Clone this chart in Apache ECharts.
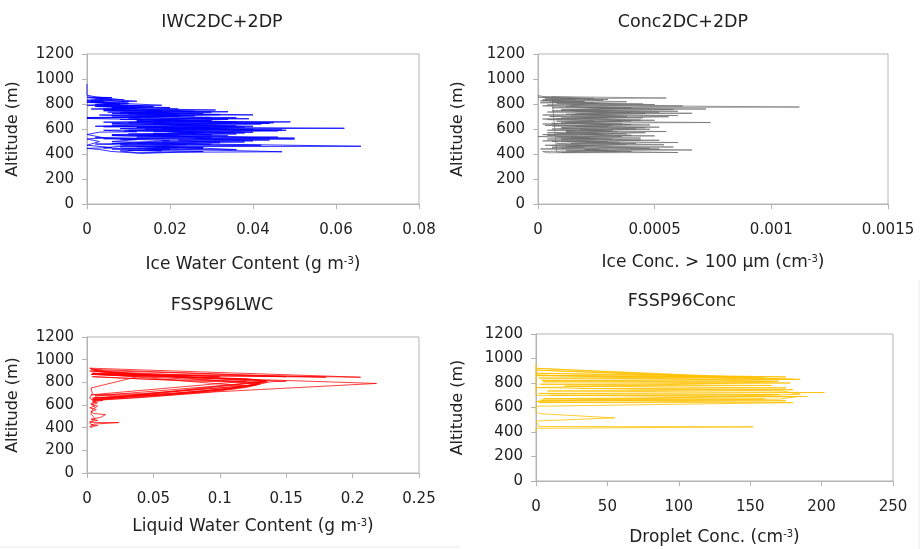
<!DOCTYPE html>
<html>
<head>
<meta charset="utf-8">
<script src="https://cdn.jsdelivr.net/npm/echarts@6/dist/echarts.min.js"></script>
<style>
  html, body { margin: 0; padding: 0; background: #fff; }
  #chart { width: 921px; height: 549px; }
</style>
</head>
<body>
<div id="chart"></div>
<script>
// panel titles
const panelTitles = ['IWC2DC+2DP', 'Conc2DC+2DP', 'FSSP96LWC', 'FSSP96Conc'];

// [value, altitude (m)]
const iwcProfile = [
  [0, 960], [0, 870], [0.002, 858], [0.009, 832], [0.001, 826], [0.004, 818], [0.000, 812], [0.007, 805],
  [0.002, 797], [0.013, 788], [0.003, 782], [0.020, 772], [0.006, 766], [0.031, 752], [0.004, 746],
  [0.034, 738], [0.010, 730], [0.040, 713], [0.006, 706], [0.022, 700], [0.000, 692], [0.039, 682],
  [0.008, 676], [0.030, 668], [0.012, 660], [0.049, 657], [0.010, 650], [0.042, 640], [0.006, 632],
  [0.036, 625], [0.004, 618], [0.062, 606], [0.014, 600], [0.047, 592], [0.009, 585], [0.040, 574],
  [0.016, 566], [0.030, 556], [0.006, 548], [0.050, 527], [0.004, 522], [0.044, 512], [0.018, 504],
  [0.038, 496], [0.012, 488], [0.066, 462], [0.008, 458], [0.028, 452], [0.014, 444], [0.047, 418],
  [0.022, 414], [0.013, 405], [0.010, 412],
  [0.006, 420], [0.003, 436], [0.000, 445], [0.006, 452], [0.000, 470], [0.003, 500], [0.000, 520],
  [0.004, 530], [0.000, 556], [0.003, 575], [0.012, 578], [0.004, 590], [0.024, 596], [0.008, 604],
  [0.030, 612], [0.002, 622], [0.020, 640], [0.004, 655], [0.026, 668], [0.000, 684], [0.016, 698],
  [0.003, 712], [0.028, 722], [0.005, 735], [0.018, 748], [0.001, 760], [0.012, 772], [0.000, 790],
  [0.008, 806], [0.000, 830], [0.005, 848], [0.000, 855],
  [0.006, 852], [0.002, 840], [0.010, 816], [0.004, 796], [0.016, 780], [0.006, 770], [0.026, 742],
  [0.008, 728], [0.032, 715], [0.012, 704], [0.036, 690], [0.014, 678], [0.045, 650], [0.016, 638],
  [0.040, 622], [0.012, 612], [0.048, 590], [0.020, 580], [0.038, 568], [0.010, 560], [0.034, 545],
  [0.012, 535], [0.050, 520], [0.022, 512], [0.032, 490], [0.008, 478], [0.042, 470], [0.016, 462],
  [0.036, 436], [0.010, 428], [0.028, 420], [0.012, 410],
  [0.008, 425], [0.020, 440], [0.004, 448], [0.010, 470], [0.002, 480], [0.016, 490], [0.006, 500],
  [0.012, 515], [0.002, 530], [0.022, 545], [0.006, 555], [0.028, 570], [0.010, 590], [0.034, 600],
  [0.014, 615], [0.025, 630], [0.006, 645], [0.030, 660], [0.010, 680], [0.024, 710], [0.006, 725],
  [0.020, 735], [0.004, 752], [0.012, 765], [0.002, 780], [0.008, 795], [0.001, 815], [0.004, 840],
  [0.003, 845], [0.012, 822], [0.002, 815], [0.018, 790], [0.004, 784], [0.022, 760], [0.008, 752],
  [0.030, 735], [0.010, 722], [0.026, 705], [0.006, 694], [0.034, 678], [0.016, 668], [0.044, 645],
  [0.020, 635], [0.038, 615], [0.018, 605], [0.046, 585], [0.024, 575], [0.036, 560], [0.014, 548],
  [0.046, 535], [0.026, 525], [0.040, 505], [0.016, 495], [0.030, 478], [0.010, 466], [0.022, 450],
  [0.006, 440], [0.018, 425],
  [0.010, 430], [0.028, 445], [0.012, 458], [0.024, 475], [0.006, 485], [0.020, 508], [0.008, 520],
  [0.030, 535], [0.012, 550], [0.026, 565], [0.016, 585], [0.040, 598], [0.020, 610], [0.032, 628],
  [0.016, 640], [0.036, 655], [0.012, 668], [0.030, 690], [0.014, 700], [0.022, 718], [0.008, 728],
  [0.018, 742], [0.004, 758], [0.014, 775], [0.002, 785], [0.010, 802], [0.000, 822], [0.006, 835],
  [0.000, 850]
];

const iceConcProfile = [
  [0, 870], [0.00002, 860], [0.00055, 848], [0.00003, 842], [0.00030, 836], [0.00002, 828], [0.00020, 820],
  [0.00001, 810], [0.00045, 800], [0.00004, 792], [0.00112, 776], [0.00006, 770], [0.00072, 760],
  [0.00010, 752], [0.00060, 742], [0.00004, 736], [0.00066, 726], [0.00012, 718], [0.00060, 708],
  [0.00005, 700], [0.00045, 690], [0.00002, 680], [0.00050, 670], [0.00008, 662], [0.00074, 652],
  [0.00006, 645], [0.00040, 636], [0.00003, 628], [0.00052, 615], [0.00010, 605], [0.00048, 598],
  [0.00004, 590], [0.00055, 580], [0.00012, 572], [0.00038, 562], [0.00002, 556], [0.00050, 545],
  [0.00008, 538], [0.00044, 528], [0.00004, 520], [0.00052, 510], [0.00010, 502], [0.00060, 492],
  [0.00014, 484], [0.00054, 474], [0.00006, 466], [0.00058, 456], [0.00010, 448], [0.00066, 432],
  [0.00012, 426], [0.00060, 412], [0.00004, 410],
  [0.00002, 420], [0.00030, 430], [0.00001, 440], [0.00020, 455], [0.00003, 470], [0.00035, 490],
  [0.00002, 505], [0.00025, 520], [0.00000, 540], [0.00028, 555], [0.00004, 570], [0.00032, 585],
  [0.00006, 600], [0.00030, 620], [0.00002, 640], [0.00036, 660], [0.00004, 675], [0.00030, 695],
  [0.00002, 712], [0.00040, 730], [0.00006, 745], [0.00034, 765], [0.00002, 785], [0.00026, 805],
  [0.00001, 825], [0.00018, 845], [0.00000, 855],
  [0.00010, 850], [0.00028, 830], [0.00006, 815], [0.00050, 795], [0.00012, 780], [0.00040, 765],
  [0.00014, 748], [0.00052, 735], [0.00016, 720], [0.00038, 700], [0.00010, 688], [0.00044, 672],
  [0.00012, 655], [0.00036, 640], [0.00006, 625], [0.00046, 610], [0.00018, 595], [0.00034, 578],
  [0.00008, 565], [0.00040, 550], [0.00014, 535], [0.00032, 518], [0.00006, 500], [0.00042, 485],
  [0.00016, 470], [0.00048, 445], [0.00020, 438], [0.00040, 420], [0.00008, 415],
  [0.00006, 858], [0.00024, 846], [0.00002, 834], [0.00038, 818], [0.00008, 806], [0.00062, 784],
  [0.00020, 772], [0.00058, 756], [0.00016, 744], [0.00046, 724], [0.00014, 712], [0.00056, 698],
  [0.00020, 684], [0.00040, 664], [0.00010, 650], [0.00048, 632], [0.00016, 622], [0.00042, 600],
  [0.00012, 588], [0.00046, 570], [0.00018, 558], [0.00036, 540], [0.00010, 528], [0.00044, 512],
  [0.00020, 498], [0.00038, 478], [0.00012, 462], [0.00052, 440], [0.00024, 430], [0.00034, 418],
  [0.00010, 412],
  [0.00016, 420], [0.00026, 436], [0.00006, 450], [0.00024, 468], [0.00008, 482], [0.00030, 500],
  [0.00010, 515], [0.00022, 532], [0.00004, 548], [0.00026, 565], [0.00012, 580], [0.00028, 596],
  [0.00010, 612], [0.00032, 630], [0.00014, 648], [0.00024, 668], [0.00008, 682], [0.00036, 700],
  [0.00016, 716], [0.00030, 738], [0.00010, 752], [0.00040, 772], [0.00014, 788], [0.00024, 808],
  [0.00006, 822], [0.00016, 840], [0.00002, 852]
];

const lwcProfile = [
  [0.004, 400], [0.002, 410], [0.008, 418], [0.003, 425], [0.006, 432], [0.024, 445], [0.004, 445],
  [0.002, 452], [0.008, 465], [0.003, 475], [0.010, 490], [0.014, 515], [0.005, 525], [0.003, 540],
  [0.007, 560], [0.002, 575], [0.006, 590], [0.003, 605], [0.008, 618], [0.004, 628], [0.012, 640],
  [0.005, 650], [0.040, 675], [0.080, 715], [0.110, 750], [0.130, 790], [0.135, 815], [0.020, 880],
  [0.002, 925], [0.206, 845], [0.004, 880], [0.090, 840], [0.140, 820], [0.218, 790], [0.005, 660],
  [0.060, 690], [0.100, 730], [0.125, 770], [0.138, 805], [0.150, 810], [0.004, 870], [0.120, 830],
  [0.135, 808], [0.005, 640], [0.040, 665], [0.090, 710], [0.120, 755], [0.130, 785], [0.005, 905],
  [0.180, 845], [0.003, 870], [0.100, 815], [0.130, 798], [0.006, 680], [0.060, 700], [0.110, 745],
  [0.128, 780], [0.004, 660], [0.050, 690], [0.090, 728], [0.115, 760], [0.128, 790], [0.136, 805],
  [0.010, 890], [0.003, 915], [0.150, 850], [0.010, 870], [0.120, 832], [0.134, 812], [0.004, 645],
  [0.030, 660], [0.070, 695], [0.105, 740], [0.125, 775], [0.132, 800], [0.080, 810], [0.004, 850],
  [0.050, 825], [0.120, 810], [0.003, 690], [0.040, 700], [0.085, 735], [0.118, 768], [0.004, 880],
  [0.100, 850], [0.002, 900], [0.045, 870], [0.003, 750], [0.004, 700], [0.002, 660], [0.006, 630],
  [0.003, 610], [0.008, 590], [0.004, 560], [0.003, 520], [0.006, 480], [0.002, 440], [0.005, 410]
];

const dropletProfile = [
  [0, 400], [0, 430], [152, 442], [2, 445], [0, 490], [55, 515], [2, 550], [0, 570], [0, 610],
  [180, 640], [2, 640], [175, 655], [3, 660], [160, 670], [5, 672], [190, 690], [10, 700], [170, 705],
  [2, 715], [202, 722], [150, 725], [8, 735], [180, 745], [30, 755], [175, 760], [20, 775], [165, 780],
  [3, 790], [178, 800], [5, 810], [170, 815], [4, 822], [185, 830], [2, 840], [150, 848], [0, 860],
  [175, 850], [0, 880], [160, 840], [0, 905], [140, 840], [0, 920], [180, 830], [0, 865], [165, 812],
  [140, 800], [0, 762], [172, 735], [185, 708], [0, 650], [170, 668], [182, 688], [0, 700], [0, 960]
];

const xTicks = [
  { max: 0.08, interval: 0.02 },
  { max: 0.0015, interval: 0.0005 },
  { max: 0.25, interval: 0.05 },
  { max: 250, interval: 50 }
];
const xNames = [
  'Ice Water Content (g m{sup|-3})',
  'Ice Conc. > 100 μm (cm{sup|-3})',
  'Liquid Water Content (g m{sup|-3})',
  'Droplet Conc. (cm{sup|-3})'
];
const colors = ['rgba(0,0,255,0.8)', 'rgba(110,110,110,0.7)', 'rgba(255,0,0,0.75)', 'rgba(255,192,0,0.8)'];
const profiles = [iwcProfile, iceConcProfile, lwcProfile, dropletProfile];

const grids = [
  { left: 87, top: 54, width: 332, height: 150 },
  { left: 538, top: 54, width: 350, height: 150 },
  { left: 87, top: 337, width: 332, height: 136 },
  { left: 536, top: 334, width: 357, height: 147 }
];
const titlePos = [[217, 8], [678, 8], [217, 291], [677, 287]];
const xNameGap = [52, 50, 45, 48];
const yNameGap = [66, 72, 66, 70];

const font = 'DejaVu Sans';
const textColor = '#222';
const axisColor = '#b4b4b4';

const chart = echarts.init(document.getElementById('chart'));
chart.setOption({
  animation: false,
  backgroundColor: '#fff',
  title: panelTitles.map((t, i) => ({
    text: t,
    left: titlePos[i][0],
    top: titlePos[i][1],
    textAlign: 'center',
    textStyle: { fontFamily: font, fontSize: 17.5, fontWeight: 'normal', color: textColor }
  })),
  grid: grids.map(g => Object.assign({ show: true, borderColor: axisColor, borderWidth: 1, containLabel: false }, g)),
  xAxis: xTicks.map((t, i) => ({
    type: 'value',
    gridIndex: i,
    min: 0,
    max: t.max,
    interval: t.interval,
    name: xNames[i],
    nameLocation: 'middle',
    nameGap: xNameGap[i],
    nameTextStyle: {
      fontFamily: font, fontSize: 17, color: textColor,
      rich: { sup: { fontFamily: font, fontSize: 10, color: textColor, verticalAlign: 'top', padding: [0, 0, 8, 0] } }
    },
    axisLine: { show: true, lineStyle: { color: axisColor } },
    axisTick: { show: true, length: 5, lineStyle: { color: axisColor } },
    splitLine: { show: false },
    axisLabel: { fontFamily: font, fontSize: 15, color: textColor, margin: 19 }
  })),
  yAxis: grids.map((g, i) => ({
    type: 'value',
    gridIndex: i,
    min: 0,
    max: 1200,
    interval: 200,
    name: 'Altitude (m)',
    nameLocation: 'middle',
    nameGap: yNameGap[i],
    nameTextStyle: { fontFamily: font, fontSize: 16, color: textColor },
    axisLine: { show: true, lineStyle: { color: axisColor } },
    axisTick: { show: true, length: 5, lineStyle: { color: axisColor } },
    splitLine: { show: false },
    axisLabel: { fontFamily: font, fontSize: 15, color: textColor, margin: 13, formatter: v => String(v) }
  })),
  series: profiles.map((p, i) => ({
    type: 'line',
    xAxisIndex: i,
    yAxisIndex: i,
    data: p,
    showSymbol: false,
    symbol: 'none',
    lineStyle: { width: 1, color: colors[i] },
    silent: true
  })),
  graphic: [
    { type: 'line', shape: { x1: 0, y1: 547, x2: 460, y2: 547 }, style: { stroke: '#e8e8e8', lineWidth: 1 } },
    { type: 'line', shape: { x1: 919, y1: 280, x2: 919, y2: 549 }, style: { stroke: '#e8e8e8', lineWidth: 1 } }
  ]
});
</script>
</body>
</html>
